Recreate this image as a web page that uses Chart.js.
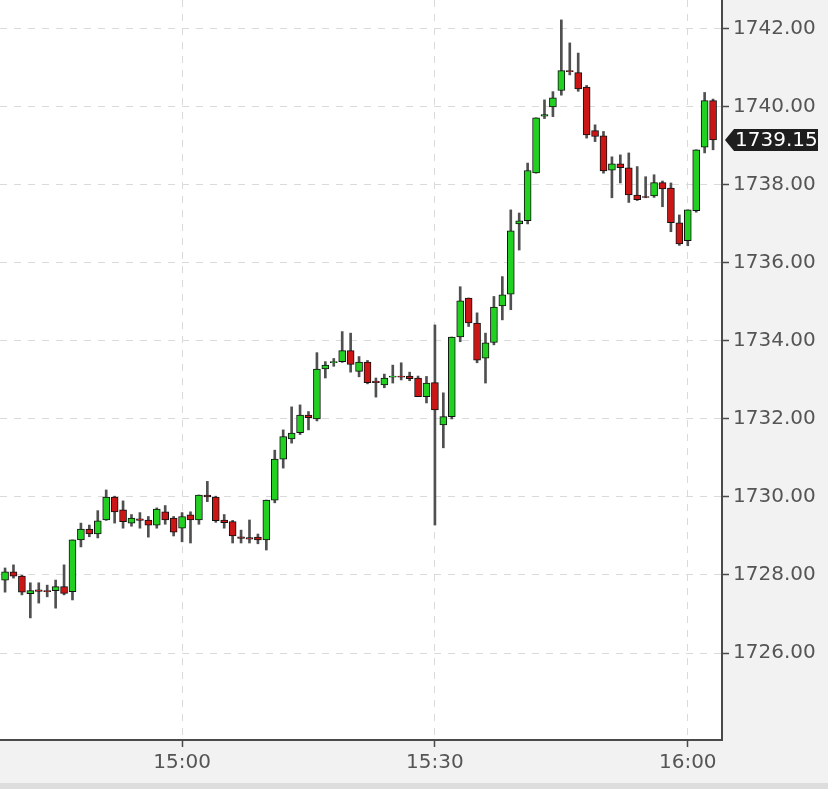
<!DOCTYPE html>
<html>
<head>
<meta charset="utf-8">
<script src="https://cdn.jsdelivr.net/npm/chart.js@4.4.1/dist/chart.umd.min.js"></script>
<style>
  html, body { margin: 0; padding: 0; background: #f2f2f2; }
  #wrap { width: 828px; height: 789px; }
</style>
</head>
<body>
<div id="wrap"><canvas id="chartVelas" width="828" height="789"></canvas></div>
<script>
// candles, one per minute
const times = ['14:39','14:40','14:41','14:42','14:43','14:44','14:45','14:46','14:47','14:48',
    '14:49','14:50','14:51','14:52','14:53','14:54','14:55','14:56','14:57','14:58',
    '14:59','15:00','15:01','15:02','15:03','15:04','15:05','15:06','15:07','15:08',
    '15:09','15:10','15:11','15:12','15:13','15:14','15:15','15:16','15:17','15:18',
    '15:19','15:20','15:21','15:22','15:23','15:24','15:25','15:26','15:27','15:28',
    '15:29','15:30','15:31','15:32','15:33','15:34','15:35','15:36','15:37','15:38',
    '15:39','15:40','15:41','15:42','15:43','15:44','15:45','15:46','15:47','15:48',
    '15:49','15:50','15:51','15:52','15:53','15:54','15:55','15:56','15:57','15:58',
    '15:59','16:00','16:01','16:02','16:03'];

const opens = [1727.87,1728.08,1727.97,1727.52,1727.62,1727.60,1727.60,1727.70,1727.57,1728.90,
    1729.18,1729.05,1729.41,1730.00,1729.67,1729.33,1729.44,1729.41,1729.28,1729.62,
    1729.46,1729.20,1729.54,1729.41,1730.05,1730.00,1729.41,1729.37,1728.98,1728.96,
    1728.97,1728.90,1729.92,1730.97,1731.49,1731.65,1732.10,1732.00,1733.28,1733.44,
    1733.47,1733.75,1733.22,1733.46,1732.97,1732.87,1733.07,1733.10,1733.10,1733.05,
    1732.57,1732.93,1731.85,1732.06,1734.10,1735.10,1734.46,1733.56,1733.96,1734.90,
    1735.20,1737.00,1737.08,1738.31,1739.76,1740.00,1740.42,1740.93,1740.88,1740.51,
    1739.39,1739.26,1738.38,1738.54,1738.44,1737.74,1737.70,1737.72,1738.06,1737.92,
    1737.03,1736.57,1737.34,1738.97,1740.16];

const highs = [1728.18,1728.26,1728.00,1727.80,1727.80,1727.74,1727.87,1728.26,1728.90,1729.33,
    1729.28,1729.65,1730.18,1730.02,1729.90,1729.55,1729.60,1729.50,1729.72,1729.78,
    1729.50,1729.60,1729.62,1730.05,1730.40,1730.02,1729.55,1729.40,1729.15,1729.41,
    1729.05,1729.92,1731.20,1731.72,1732.31,1732.36,1732.19,1733.70,1733.47,1733.55,
    1734.24,1734.20,1733.60,1733.50,1733.05,1733.15,1733.38,1733.44,1733.20,1733.10,
    1733.09,1734.41,1732.67,1734.10,1735.39,1735.10,1734.72,1734.20,1735.14,1735.65,
    1737.36,1737.28,1738.56,1739.72,1740.18,1740.39,1742.23,1741.64,1741.38,1740.55,
    1739.54,1739.37,1738.72,1738.77,1738.82,1738.47,1738.21,1738.26,1738.10,1738.05,
    1737.23,1737.36,1738.90,1740.37,1740.20];

const lows = [1727.56,1727.92,1727.49,1726.90,1727.28,1727.44,1727.15,1727.49,1727.36,1728.72,
    1728.98,1728.95,1729.40,1729.33,1729.20,1729.25,1729.20,1728.97,1729.20,1729.30,
    1729.00,1728.85,1728.82,1729.30,1729.88,1729.35,1729.20,1728.82,1728.82,1728.82,
    1728.80,1728.64,1729.85,1730.74,1731.38,1731.60,1731.72,1731.95,1733.05,1733.35,
    1733.45,1733.20,1733.08,1732.90,1732.56,1732.80,1732.92,1733.00,1732.98,1732.57,
    1732.41,1729.28,1731.26,1732.00,1733.98,1734.37,1733.44,1732.92,1733.90,1734.54,
    1734.80,1736.33,1737.00,1738.30,1739.70,1739.75,1740.30,1740.82,1740.40,1739.20,
    1739.11,1738.30,1737.67,1738.05,1737.55,1737.60,1737.67,1737.68,1737.44,1736.80,
    1736.45,1736.44,1737.30,1738.82,1738.90];

const closes = [1728.08,1727.97,1727.56,1727.60,1727.58,1727.57,1727.70,1727.53,1728.90,1729.18,
    1729.05,1729.39,1730.00,1729.62,1729.37,1729.46,1729.40,1729.28,1729.69,1729.41,
    1729.10,1729.50,1729.41,1730.05,1730.00,1729.39,1729.34,1729.00,1728.94,1728.92,
    1728.90,1729.92,1730.97,1731.55,1731.64,1732.10,1732.03,1733.28,1733.38,1733.47,
    1733.75,1733.40,1733.46,1732.93,1732.93,1733.05,1733.10,1733.07,1733.03,1732.57,
    1732.92,1732.23,1732.06,1734.10,1735.03,1734.46,1733.51,1733.95,1734.87,1735.18,
    1736.82,1737.08,1738.37,1739.72,1739.80,1740.23,1740.93,1740.90,1740.46,1739.28,
    1739.24,1738.36,1738.54,1738.44,1737.74,1737.62,1737.68,1738.06,1737.90,1737.03,
    1736.49,1737.36,1738.90,1740.16,1739.15];

// axes
const xTickLabels = ['15:00', '15:30', '16:00'];
const yTickValues = [1726, 1728, 1730, 1732, 1734, 1736, 1738, 1740, 1742];
const xRange = ['14:38.4', '16:04.06'];
const yRange = [1723.77, 1742.74];

function paraMinutos(hhmm) {
    const partes = hhmm.split(':');
    return parseInt(partes[0], 10) * 60 + parseFloat(partes[1]);
}
function paraHora(min) {
    const h = Math.floor(min / 60);
    const m = Math.round(min - h * 60);
    return h + ':' + (m < 10 ? '0' + m : m);
}

const cores = {
    verde: '#22d022',
    vermelho: '#cc1616',
    borda: '#111111',
    pavio: '#505050',
    grade: '#dadada',
    eixo: '#4a4a4a',
    texto: '#555555'
};

const corpos = times.map((t, i) => ({ x: paraMinutos(t), y: [opens[i], closes[i]] }));
const pavios = times.map((t, i) => ({ x: paraMinutos(t), y: [lows[i], highs[i]] }));
const coresCorpo = times.map((t, i) => closes[i] >= opens[i] ? cores.verde : cores.vermelho);

const fonte = { family: 'DejaVu Sans', size: 20 };

// sem padding automático nas bordas dos eixos
const semPadding = scale => {
    scale.paddingTop = 0;
    scale.paddingBottom = 0;
    scale.paddingLeft = 0;
    scale.paddingRight = 0;
};

const fundoPlugin = {
    id: 'fundo',
    beforeDraw(chart) {
        const { ctx, chartArea: a } = chart;
        ctx.save();
        ctx.fillStyle = '#f2f2f2';
        ctx.fillRect(0, 0, chart.width, chart.height);
        ctx.fillStyle = '#ffffff';
        ctx.fillRect(a.left, a.top, a.right - a.left, a.bottom - a.top);
        ctx.fillStyle = '#dddddd';
        ctx.fillRect(0, chart.height - 6, chart.width, 6);
        ctx.restore();
    },
    afterDraw(chart) {
        // etiqueta do último preço
        const ultimo = closes[closes.length - 1];
        const y = chart.scales.y.getPixelForValue(ultimo);
        const x0 = chart.chartArea.right + 3;
        const ctx = chart.ctx;
        ctx.save();
        ctx.fillStyle = '#1e1e1e';
        ctx.beginPath();
        ctx.moveTo(x0, y);
        ctx.lineTo(x0 + 9, y - 11);
        ctx.lineTo(x0 + 93, y - 11);
        ctx.lineTo(x0 + 93, y + 11);
        ctx.lineTo(x0 + 9, y + 11);
        ctx.closePath();
        ctx.fill();
        ctx.fillStyle = '#ffffff';
        ctx.font = '20px "DejaVu Sans"';
        ctx.textAlign = 'left';
        ctx.textBaseline = 'middle';
        ctx.fillText(ultimo.toFixed(2), x0 + 10, y + 1);
        ctx.restore();
    }
};

const ctxVelas = document.getElementById('chartVelas').getContext('2d');
const chartVelas = new Chart(ctxVelas, {
    type: 'bar',
    data: {
        datasets: [
            {
                label: 'corpo',
                data: corpos,
                backgroundColor: coresCorpo,
                borderColor: cores.borda,
                borderWidth: 1,
                borderSkipped: false,
                barThickness: 7,
                grouped: false,
                order: 0
            },
            {
                label: 'pavio',
                data: pavios,
                backgroundColor: cores.pavio,
                borderWidth: 0,
                barThickness: 2,
                grouped: false,
                order: 1
            }
        ]
    },
    options: {
        responsive: false,
        animation: false,
        layout: { padding: { top: 0, left: 0, right: 0, bottom: 6 } },
        plugins: {
            legend: { display: false },
            tooltip: { enabled: false }
        },
        scales: {
            x: {
                type: 'linear',
                offset: false,
                min: paraMinutos(xRange[0]),
                max: paraMinutos(xRange[1]),
                afterBuildTicks: scale => {
                    scale.ticks = xTickLabels.map(l => ({ value: paraMinutos(l) }));
                },
                afterFit: scale => { scale.height = 43; semPadding(scale); },
                ticks: {
                    color: cores.texto,
                    font: fonte,
                    padding: 4,
                    maxRotation: 0,
                    callback: v => paraHora(v)
                },
                grid: {
                    offset: false,
                    color: cores.grade,
                    tickBorderDash: [],
                    tickColor: cores.eixo,
                    tickLength: 7,
                    tickWidth: 1.5
                },
                border: { display: true, color: cores.eixo, width: 2, dash: [7, 7] }
            },
            y: {
                type: 'linear',
                position: 'right',
                beginAtZero: false,
                min: yRange[0],
                max: yRange[1],
                afterBuildTicks: scale => {
                    scale.ticks = yTickValues.map(v => ({ value: v }));
                },
                afterFit: scale => { scale.width = 106; semPadding(scale); },
                ticks: {
                    color: cores.texto,
                    font: fonte,
                    padding: 4,
                    callback: v => Number(v).toFixed(2)
                },
                grid: {
                    color: cores.grade,
                    tickBorderDash: [],
                    tickColor: cores.eixo,
                    tickLength: 7,
                    tickWidth: 1.5
                },
                border: { display: true, color: cores.eixo, width: 2, dash: [7, 7] }
            }
        }
    },
    plugins: [fundoPlugin]
});
</script>
</body>
</html>
